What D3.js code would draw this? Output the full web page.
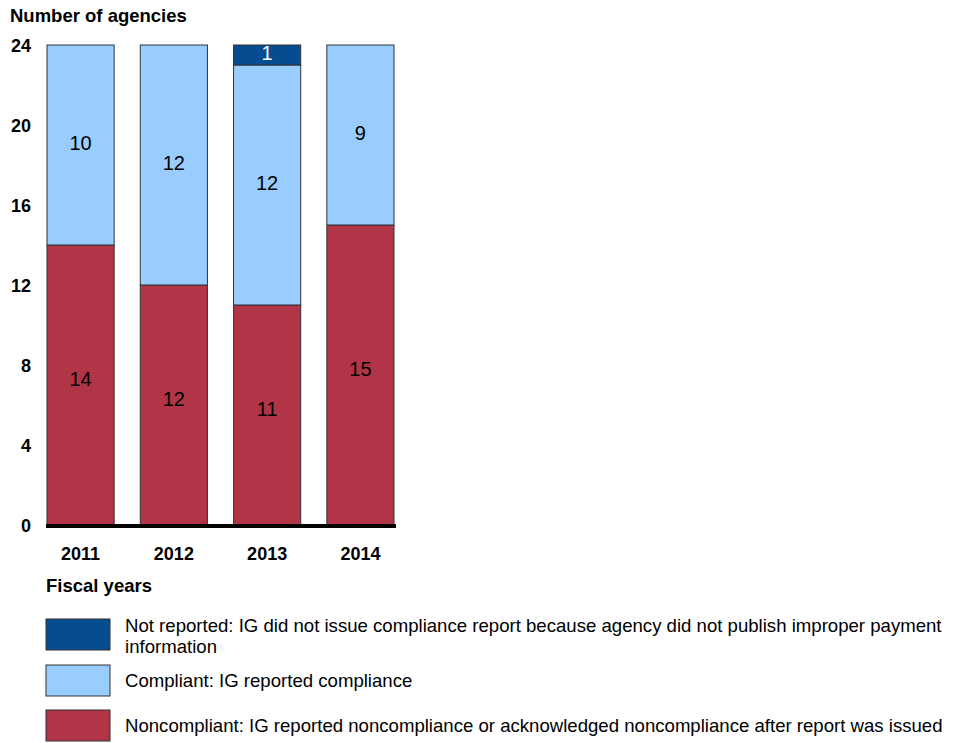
<!DOCTYPE html>
<html>
<head>
<meta charset="utf-8">
<script src="https://cdn.jsdelivr.net/npm/d3@7"></script>
<style>
  body { margin: 0; background: #fff; }
  svg { display: block; font-family: Arial, "Liberation Sans", sans-serif; }
</style>
</head>
<body>
<svg id="chart" width="964" height="743"></svg>
<script>
// Fiscal years and agency counts per compliance status
const years = ["2011", "2012", "2013", "2014"];
const noncompliant = [14, 12, 11, 15];
const compliant = [10, 12, 12, 9];
const notReported = [0, 0, 1, 0];
const yTicks = [0, 4, 8, 12, 16, 20, 24];

const seriesKeys = ["noncompliant", "compliant", "notReported"];
const colors = { noncompliant: "#b13447", compliant: "#99ccff", notReported: "#054c91" };
const labelColors = { noncompliant: "#000", compliant: "#000", notReported: "#fff" };
const legendItems = [
  { key: "notReported", lines: ["Not reported: IG did not issue compliance report because agency did not publish improper payment", "information"] },
  { key: "compliant", lines: ["Compliant: IG reported compliance"] },
  { key: "noncompliant", lines: ["Noncompliant: IG reported noncompliance or acknowledged noncompliance after report was issued"] }
];

const rows = years.map((y, i) => ({
  year: y,
  noncompliant: noncompliant[i],
  compliant: compliant[i],
  notReported: notReported[i]
}));
const stacked = d3.stack().keys(seriesKeys)(rows);

const svg = d3.select("#chart");

const x = d3.scaleBand().domain(years).range([47, 394]).paddingInner(0.28).paddingOuter(0);
const y = d3.scaleLinear().domain([0, 24]).range([525, 45]);

// Axis title
svg.append("text").attr("x", 10).attr("y", 22)
  .attr("font-size", 18.5).attr("font-weight", "bold").text("Number of agencies");

// Y axis labels
const yAxis = svg.append("g").attr("transform", "translate(31,0)")
  .call(d3.axisLeft(y).tickValues(yTicks).tickSize(0).tickPadding(0));
yAxis.select(".domain").remove();
yAxis.selectAll("text").attr("font-size", 18).attr("font-weight", "bold")
  .attr("fill", "#000").attr("font-family", "Arial, 'Liberation Sans', sans-serif")
  .attr("dy", "0.35em");

// Stacked bars
const layers = svg.append("g").selectAll("g").data(stacked).join("g")
  .attr("fill", d => colors[d.key]);
layers.selectAll("rect").data(d => d.filter(p => p[1] - p[0] > 0)).join("rect")
  .attr("x", d => x(d.data.year))
  .attr("y", d => y(d[1]))
  .attr("width", x.bandwidth())
  .attr("height", d => y(d[0]) - y(d[1]))
  .attr("stroke", "#333").attr("stroke-width", 1);

// Value labels
svg.append("g").selectAll("g").data(stacked).join("g")
  .attr("fill", d => labelColors[d.key])
  .selectAll("text").data(d => d.filter(p => p[1] - p[0] > 0)).join("text")
  .attr("x", d => x(d.data.year) + x.bandwidth() / 2)
  .attr("y", d => y((d[0] + d[1]) / 2) - (d[0] === 0 ? 6 : 2))
  .attr("dy", "0.35em")
  .attr("text-anchor", "middle")
  .attr("font-size", 20)
  .text(d => d[1] - d[0]);

// Baseline
svg.append("line").attr("x1", 46).attr("x2", 396)
  .attr("y1", y(0) + 1).attr("y2", y(0) + 1)
  .attr("stroke", "#000").attr("stroke-width", 4);

// X axis labels
const xAxis = svg.append("g").attr("transform", `translate(0,${y(0) + 29})`)
  .call(d3.axisBottom(x).tickSize(0).tickPadding(0));
xAxis.select(".domain").remove();
xAxis.selectAll("text").attr("font-size", 18).attr("font-weight", "bold")
  .attr("fill", "#000").attr("font-family", "Arial, 'Liberation Sans', sans-serif")
  .attr("dy", "0.35em").attr("y", 0);

svg.append("text").attr("x", 46).attr("y", 592)
  .attr("font-size", 18.5).attr("font-weight", "bold").text("Fiscal years");

// Legend
const legendTop = [619, 665, 710];
const legend = svg.append("g").selectAll("g").data(legendItems).join("g")
  .attr("transform", (d, i) => `translate(46,${legendTop[i]})`);
legend.append("rect").attr("width", 64).attr("height", 31)
  .attr("fill", d => colors[d.key]).attr("stroke", "#333").attr("stroke-width", 1);
legend.each(function(d) {
  const g = d3.select(this);
  d.lines.forEach((line, j) => {
    g.append("text").attr("x", 79).attr("y", (d.lines.length > 1 ? 13 : 22) + j * 21)
      .attr("font-size", 18.6).attr("fill", "#000").text(line);
  });
});
</script>
</body>
</html>
